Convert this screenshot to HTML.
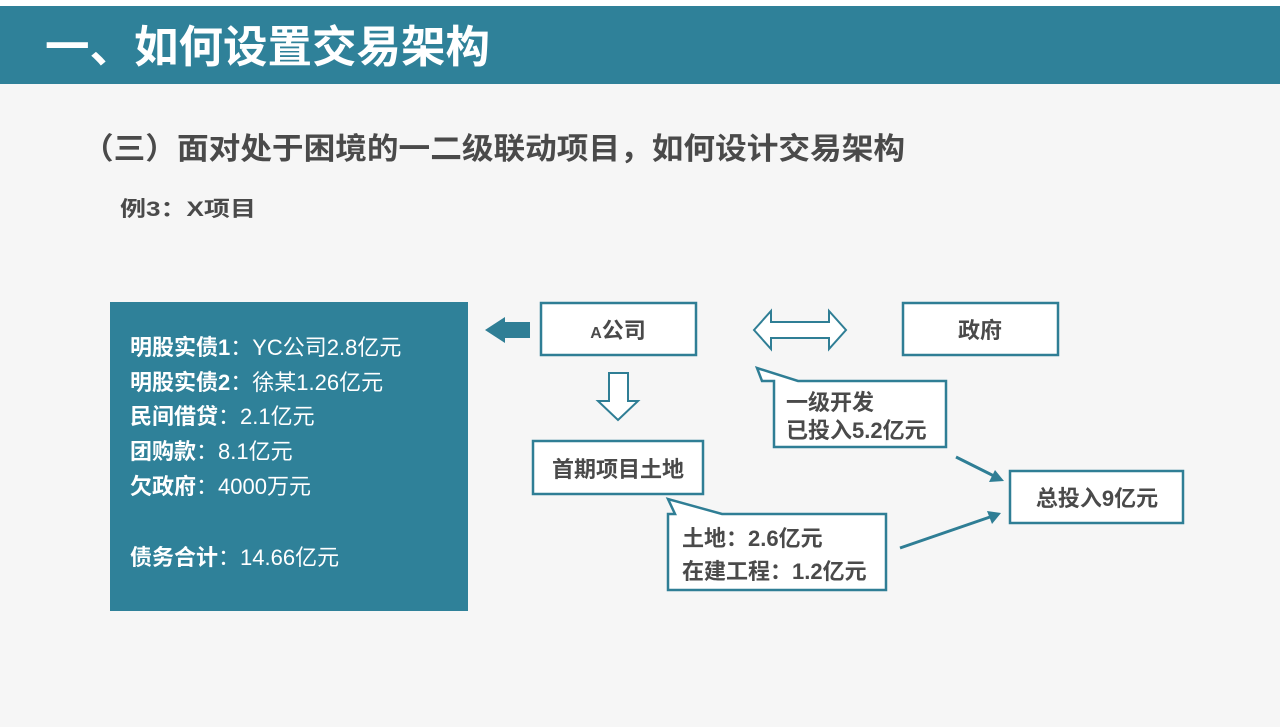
<!DOCTYPE html>
<html><head><meta charset="utf-8">
<style>
html,body{margin:0;padding:0;background:#f6f6f6;}
svg{display:block;}
text{font-family:"Liberation Sans","Noto Sans CJK SC",sans-serif;}
</style></head>
<body>
<svg width="1280" height="727" viewBox="0 0 1280 727" xmlns="http://www.w3.org/2000/svg">
<rect x="0" y="0" width="1280" height="727" fill="#f6f6f6"/>
<rect x="0" y="0" width="1280" height="6" fill="#ffffff"/>
<rect x="0" y="6" width="1280" height="78" fill="#2f8199"/>
<text x="45" y="62" font-size="44" font-weight="bold" fill="#ffffff" textLength="445" lengthAdjust="spacingAndGlyphs">一、如何设置交易架构</text>
<text x="82" y="159" font-size="30" font-weight="bold" fill="#4a4a4a" textLength="823" lengthAdjust="spacingAndGlyphs">（三）面对处于困境的一二级联动项目，如何设计交易架构</text>
<text x="120" y="216" font-size="21" font-weight="bold" fill="#4a4a4a" textLength="136" lengthAdjust="spacingAndGlyphs">例3：X项目</text>

<rect x="110" y="302" width="358" height="309" fill="#2f8199"/>
<g font-size="22" fill="#ffffff">
<text x="130" y="355"><tspan font-weight="bold">明股实债1</tspan>：YC公司2.8亿元</text>
<text x="130" y="390"><tspan font-weight="bold">明股实债2</tspan>：徐某1.26亿元</text>
<text x="130" y="424"><tspan font-weight="bold">民间借贷</tspan>：2.1亿元</text>
<text x="130" y="459"><tspan font-weight="bold">团购款</tspan>：8.1亿元</text>
<text x="130" y="494"><tspan font-weight="bold">欠政府</tspan>：4000万元</text>
<text x="130" y="565"><tspan font-weight="bold">债务合计</tspan>：14.66亿元</text>
</g>

<g fill="#ffffff" stroke="#2f7e95" stroke-width="2.5">
<rect x="541" y="303" width="155" height="52"/>
<rect x="903" y="303" width="155" height="52"/>
<rect x="533" y="441" width="170" height="53"/>
<rect x="1010" y="471" width="173" height="52"/>
<path d="M774 381 L762 381 L757 368 L798 381 L946 381 L946 447 L774 447 Z"/>
<path d="M668 514 L675 514 L668 499 L722 514 L886 514 L886 590 L668 590 Z"/>
</g>
<g font-weight="bold" fill="#4a4a4a" font-size="22" text-anchor="middle">
<text x="618" y="338"><tspan font-size="16">A</tspan>公司</text>
<text x="980" y="338">政府</text>
<text x="618" y="477">首期项目土地</text>
<text x="1097" y="506">总投入9亿元</text>
</g>
<g font-weight="bold" fill="#4a4a4a" font-size="22">
<text x="786" y="410">一级开发</text>
<text x="786" y="438">已投入5.2亿元</text>
<text x="682" y="546">土地：2.6亿元</text>
<text x="682" y="579">在建工程：1.2亿元</text>
</g>

<path d="M530 322 L505 322 L505 317 L485 330 L505 343 L505 338 L530 338 Z" fill="#2f7e95"/>
<path d="M609 373 L628 373 L628 401 L638 401 L618 420 L598 401 L609 401 Z" fill="#ffffff" stroke="#2f7e95" stroke-width="2"/>
<path d="M754 330 L771 311 L771 322 L829 322 L829 311 L846 330 L829 349 L829 338 L771 338 L771 349 Z" fill="#ffffff" stroke="#2f7e95" stroke-width="2"/>
<g stroke="#2f7e95" stroke-width="3">
<line x1="956" y1="457" x2="994" y2="476"/>
<line x1="900" y1="548" x2="990" y2="517"/>
</g>
<path d="M1004 481 L989 482 L995 470 Z" fill="#2f7e95"/>
<path d="M1001 513 L992 524 L987 511 Z" fill="#2f7e95"/>
</svg>
</body></html>
